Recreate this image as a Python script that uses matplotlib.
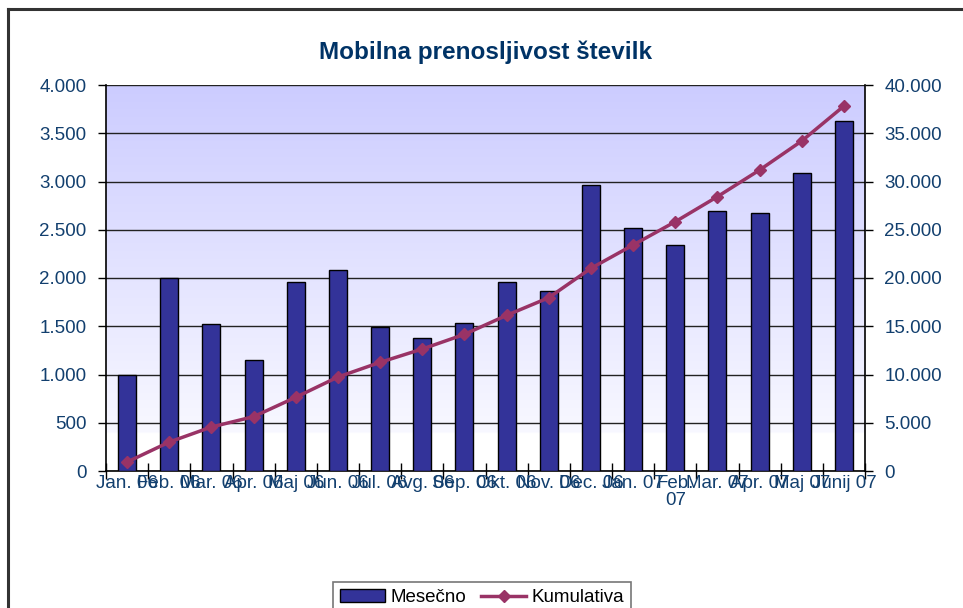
import matplotlib.pyplot as plt
import numpy as np
from matplotlib.lines import Line2D
from matplotlib.patches import Patch
from matplotlib.ticker import FuncFormatter

plt.rcParams['font.family'] = ['Liberation Sans', 'DejaVu Sans']

# Podatki
meseci = ['Jan. 06', 'Feb. 06', 'Mar. 06', 'Apr. 06', 'Maj 06', 'Jun. 06',
          'Jul. 06', 'Avg. 06', 'Sep. 06', 'Okt. 06', 'Nov. 06', 'Dec. 06',
          'Jan. 07', 'Feb.\n07', 'Mar. 07', 'Apr. 07', 'Maj 07', 'Junij 07']
mesecno = [990, 2000, 1520, 1155, 1960, 2085, 1490, 1380, 1535, 1960,
           1870, 2965, 2520, 2340, 2690, 2675, 3085, 3630]
kumulativa = [930, 3000, 4560, 5630, 7640, 9740, 11260, 12640, 14160, 16130,
              17960, 21000, 23420, 25830, 28430, 31190, 34200, 37820]

txt_col = '#123f6e'
W, H = 963, 608

fig = plt.figure(figsize=(W / 100, H / 100), dpi=100)
ax = fig.add_axes([106 / W, 1 - 471 / H, (865 - 106) / W, (471 - 85) / H])

# okvir grafikona
fig.add_artist(Line2D([8 / W, 8 / W], [0, 1 - 9 / H], color='#333333', lw=2.2,
                      transform=fig.transFigure))
fig.add_artist(Line2D([8 / W, 1], [1 - 9 / H, 1 - 9 / H], color='#333333', lw=2.2,
                      transform=fig.transFigure))

# gradient ozadje
top = np.array([0xCC, 0xCC, 0xFF]) / 255
bot = np.array([0xF8, 0xF8, 0xFF]) / 255
n = 200
t = np.linspace(0, 1, n)[:, None]
grad = top * (1 - t) + bot * t
grad = np.concatenate([grad, np.ones((22, 3))])[:, None, :]
ax.imshow(grad, extent=[0, 1, 0, 1], transform=ax.transAxes, aspect='auto',
          zorder=0, interpolation='bilinear')

x = np.arange(len(meseci))
ax.bar(x, mesecno, width=0.43, color='#333399', edgecolor='black', lw=1, zorder=3)
ax.set_xlim(-0.5, len(meseci) - 0.5)
ax.set_ylim(0, 4000)
ax.set_yticks(np.arange(0, 4001, 500))
fmt = FuncFormatter(lambda v, p: f'{int(v):,}'.replace(',', '.'))
ax.yaxis.set_major_formatter(fmt)
ax.grid(True, axis='y', color='#222222', lw=1, zorder=1)
ax.set_axisbelow(True)

ax.set_xticks(np.arange(len(meseci) + 1) - 0.5)
ax.set_xticklabels([])
ax.set_xticks(x, minor=True)
ax.set_xticklabels(meseci, minor=True, fontsize=13.5, color=txt_col,
                   linespacing=1.0)
ax.tick_params(axis='x', which='major', direction='inout', length=12, width=1)
ax.tick_params(axis='x', which='minor', length=0, pad=3)
ax.tick_params(axis='y', length=6, width=1, labelsize=13.5, labelcolor=txt_col, pad=8)

for s in ['top', 'right']:
    ax.spines[s].set_visible(False)
ax.spines['left'].set_linewidth(1.2)
ax.spines['bottom'].set_linewidth(1.2)

ax2 = ax.twinx()
ax2.plot(x, kumulativa, color='#993366', lw=2.5, marker='D', ms=6, zorder=4)
ax2.set_ylim(0, 40000)
ax2.set_yticks(np.arange(0, 40001, 5000))
ax2.yaxis.set_major_formatter(fmt)
ax2.tick_params(axis='y', length=6, width=1, labelsize=13.5, labelcolor=txt_col, pad=8)
for s in ['top', 'left', 'bottom']:
    ax2.spines[s].set_visible(False)
ax2.spines['right'].set_linewidth(1.2)

fig.text(486 / W, 1 - 52 / H, 'Mobilna prenosljivost številk', ha='center',
         va='center', fontsize=17.5, fontweight='bold', color='#003366')

handles = [Patch(facecolor='#333399', edgecolor='black', lw=1),
           Line2D([], [], color='#993366', lw=2.5, marker='D', ms=6)]
leg = fig.legend(handles, ['Mesečno', 'Kumulativa'], loc='upper center',
                 bbox_to_anchor=(482 / W, 1 - 573 / H), ncol=2, fontsize=13.5,
                 frameon=True, fancybox=False, edgecolor='#555555',
                 handlelength=2.4, handletextpad=0.3, columnspacing=0.8,
                 borderpad=0.35)
leg.get_frame().set_linewidth(1.2)

fig.savefig('out.png', dpi=100, facecolor='white')
